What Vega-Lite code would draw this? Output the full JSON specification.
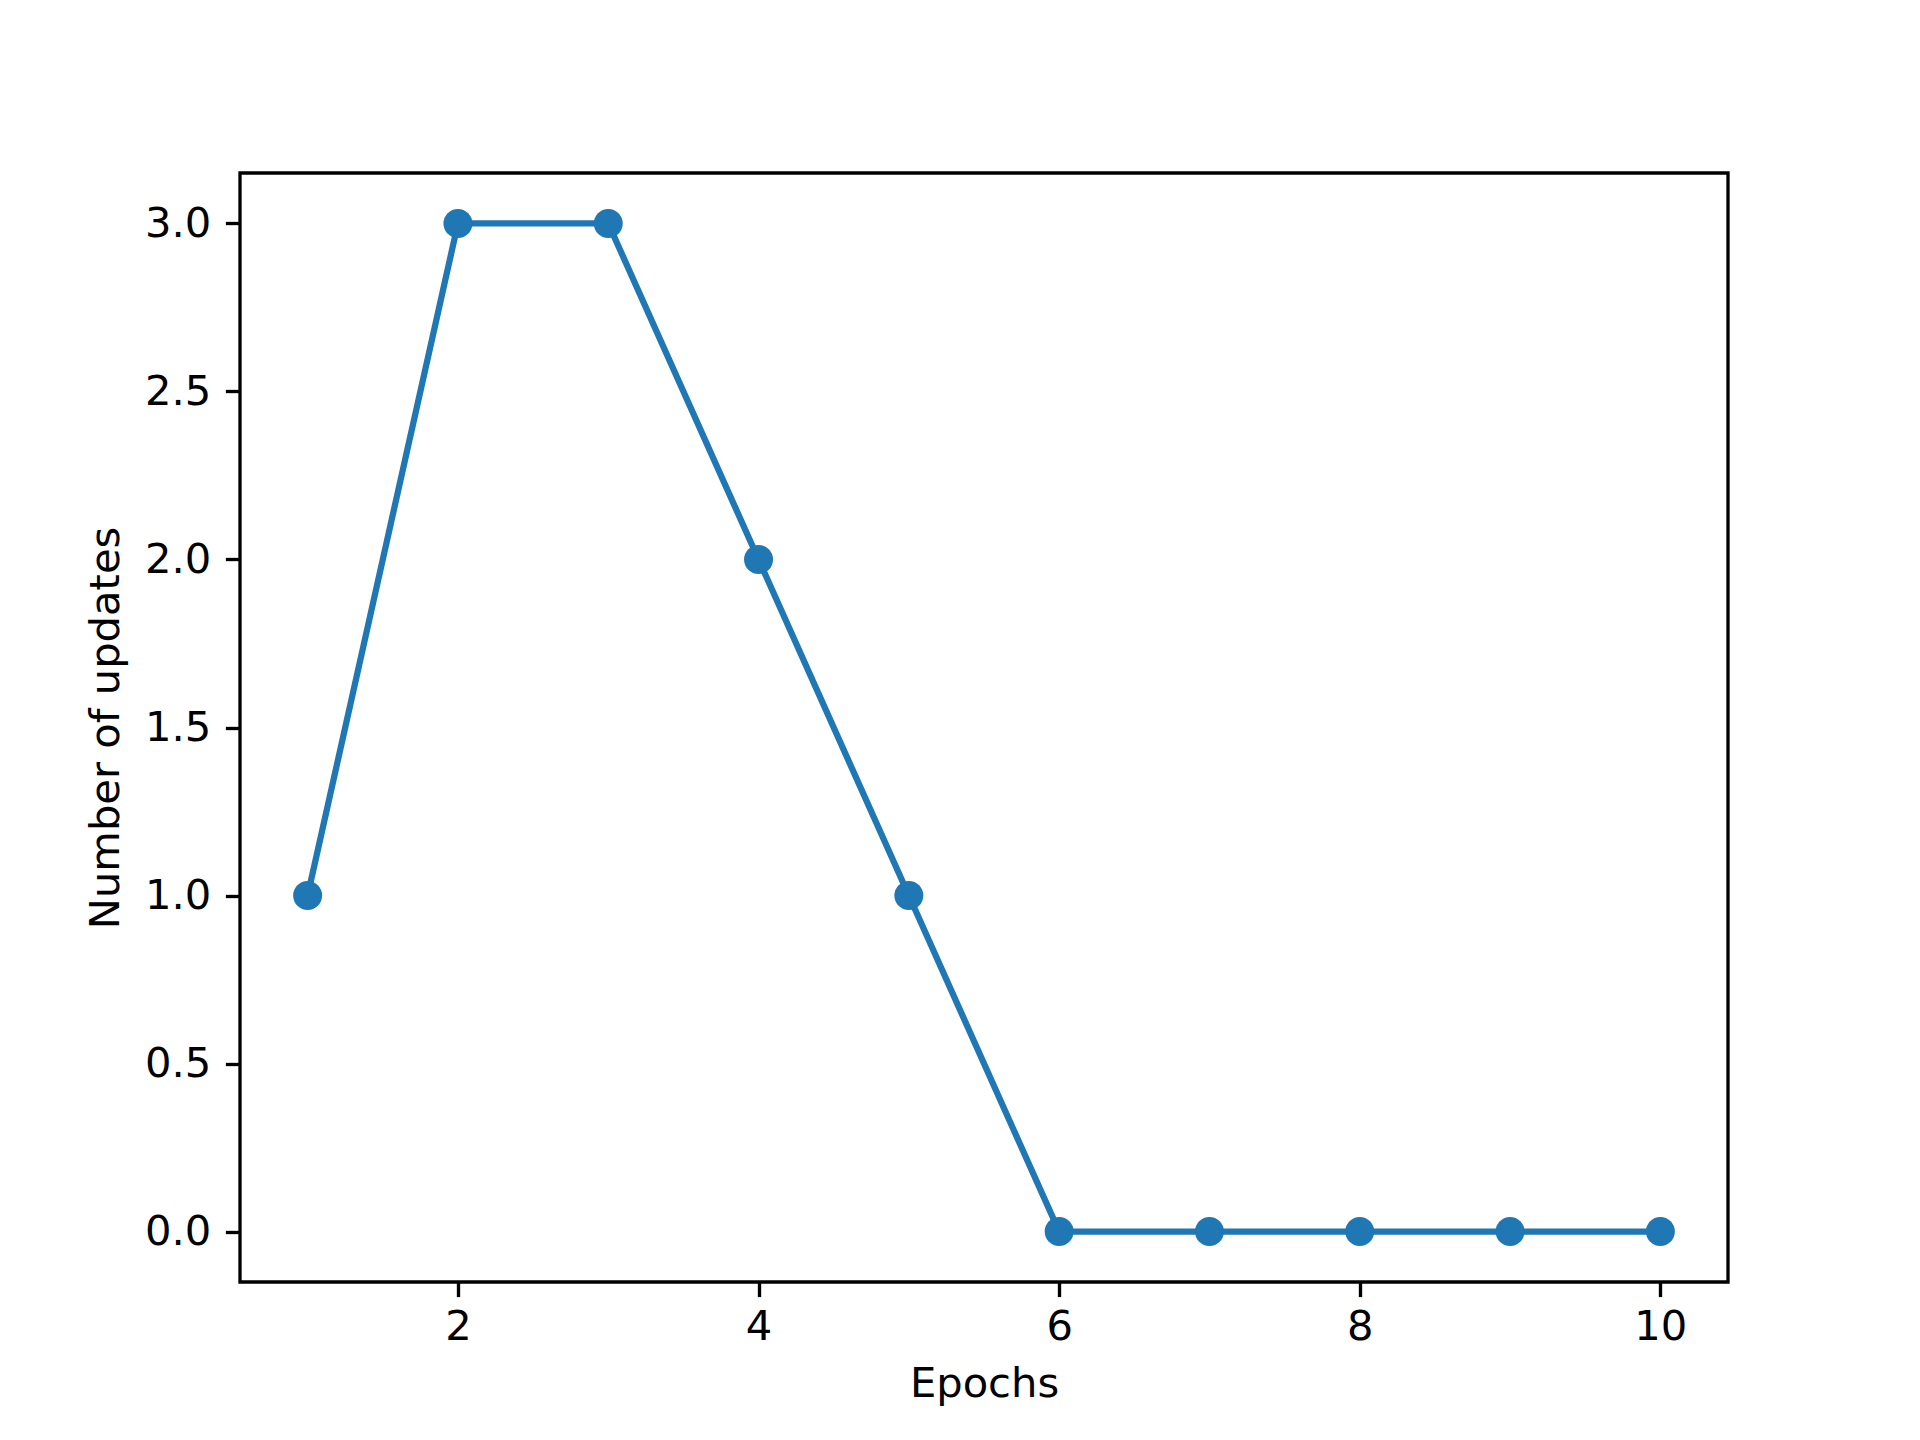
{
  "$schema": "https://vega.github.io/schema/vega-lite/v6.json",
  "width": 1488,
  "height": 1109,
  "autosize": {"type": "none"},
  "padding": {"left": 240, "top": 173, "right": 192, "bottom": 158},
  "background": "white",
  "config": {
    "view": {"stroke": "black", "strokeWidth": 3.33},
    "font": "DejaVu Sans",
    "axis": {
      "domain": false,
      "grid": false,
      "tickColor": "black",
      "tickWidth": 3.33,
      "tickSize": 14.6,
      "labelFont": "DejaVu Sans",
      "labelFontSize": 41.67,
      "labelColor": "black",
      "labelPadding": 14.6,
      "titleFont": "DejaVu Sans",
      "titleFontSize": 41.67,
      "titleFontWeight": "normal",
      "titleColor": "black",
      "titlePadding": 16.7
    }
  },
  "data": {
    "values": [
      {"epoch": 1, "updates": 1},
      {"epoch": 2, "updates": 3},
      {"epoch": 3, "updates": 3},
      {"epoch": 4, "updates": 2},
      {"epoch": 5, "updates": 1},
      {"epoch": 6, "updates": 0},
      {"epoch": 7, "updates": 0},
      {"epoch": 8, "updates": 0},
      {"epoch": 9, "updates": 0},
      {"epoch": 10, "updates": 0}
    ]
  },
  "encoding": {
    "x": {
      "field": "epoch",
      "type": "quantitative",
      "title": "Epochs",
      "scale": {"domain": [0.55, 10.45], "nice": false, "zero": false},
      "axis": {"values": [2, 4, 6, 8, 10], "format": "d", "labelFlush": false, "labelPadding": 10, "titlePadding": 15}
    },
    "y": {
      "field": "updates",
      "type": "quantitative",
      "title": "Number of updates",
      "scale": {"domain": [-0.15, 3.15], "nice": false, "zero": false},
      "axis": {"values": [0, 0.5, 1, 1.5, 2, 2.5, 3], "format": ".1f", "labelFlush": false}
    }
  },
  "layer": [
    {"mark": {"type": "line", "color": "#1f77b4", "strokeWidth": 6.25}},
    {"mark": {"type": "point", "filled": true, "shape": "circle", "color": "#1f77b4", "opacity": 1, "size": 841}}
  ]
}
